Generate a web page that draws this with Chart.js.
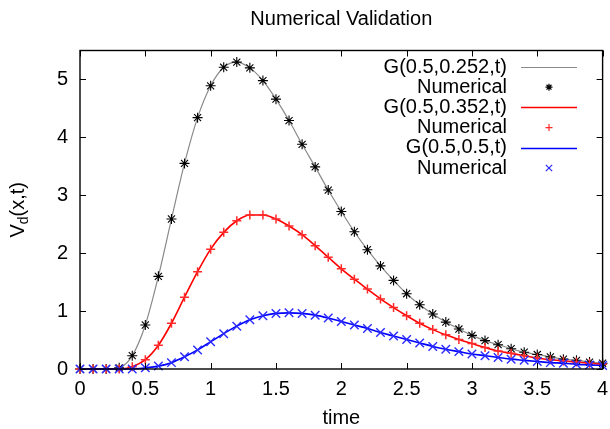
<!DOCTYPE html>
<html>
<head>
<meta charset="utf-8">
<script src="https://cdn.jsdelivr.net/npm/chart.js@4/dist/chart.umd.min.js"></script>
<style>
  html, body { margin: 0; padding: 0; background: #fff; }
  #chart { display: block; }
</style>
</head>
<body>
<canvas id="chart" width="610" height="429"></canvas>
<script>
// time samples (x)
const time = [0, 0.1, 0.2, 0.3, 0.4, 0.5, 0.6, 0.7, 0.8, 0.9,
              1.0, 1.1, 1.2, 1.3, 1.4, 1.5, 1.6, 1.7, 1.8, 1.9,
              2.0, 2.1, 2.2, 2.3, 2.4, 2.5, 2.6, 2.7, 2.8, 2.9,
              3.0, 3.1, 3.2, 3.3, 3.4, 3.5, 3.6, 3.7, 3.8, 3.9, 4.0];

// G(0.5,0.252,t)
const v252 = [0, 0, 0, 0.02, 0.23, 0.76, 1.60, 2.59, 3.55, 4.34,
              4.89, 5.21, 5.30, 5.20, 4.98, 4.66, 4.29, 3.88, 3.49, 3.09,
              2.72, 2.37, 2.06, 1.78, 1.53, 1.30, 1.11, 0.95, 0.81, 0.69,
              0.58, 0.49, 0.42, 0.35, 0.29, 0.25, 0.21, 0.17, 0.15, 0.12, 0.10];

// G(0.5,0.352,t)
const v352 = [0, 0, 0, 0, 0.04, 0.16, 0.41, 0.79, 1.24, 1.68,
              2.07, 2.36, 2.56, 2.66, 2.66, 2.59, 2.47, 2.32, 2.13, 1.93,
              1.73, 1.55, 1.38, 1.21, 1.06, 0.92, 0.79, 0.68, 0.59, 0.51,
              0.44, 0.37, 0.31, 0.27, 0.23, 0.19, 0.16, 0.14, 0.12, 0.10, 0.08];

// G(0.5,0.5,t)
const v500 = [0, 0, 0, 0, 0, 0.02, 0.05, 0.11, 0.21, 0.33,
              0.47, 0.61, 0.74, 0.85, 0.92, 0.96, 0.97, 0.96, 0.93, 0.88,
              0.82, 0.76, 0.70, 0.63, 0.57, 0.51, 0.45, 0.39, 0.34, 0.30,
              0.26, 0.23, 0.20, 0.17, 0.15, 0.13, 0.11, 0.10, 0.08, 0.07, 0.06];

const xTicks = [0, 0.5, 1, 1.5, 2, 2.5, 3, 3.5, 4];
const yTicks = [0, 1, 2, 3, 4, 5];

const legendLabels = ["G(0.5,0.252,t)", "Numerical", "G(0.5,0.352,t)", "Numerical", "G(0.5,0.5,t)", "Numerical"];

const FONT = "'Liberation Sans', Arial, Helvetica, sans-serif";

function pts(arr) {
  return time.map((t, i) => ({ x: t, y: arr[i] }));
}

function lineSet(label, arr, color, width, order) {
  return {
    label: label, data: pts(arr), showLine: true, borderColor: color, borderWidth: width,
    pointRadius: 0, fill: false, cubicInterpolationMode: "monotone",
    order: order, clip: false
  };
}

function pointSet(label, arr, color, style, radius, width, keyRadius, order) {
  return {
    label: label, data: pts(arr), showLine: false, borderColor: color,
    backgroundColor: color, pointStyle: style, pointRadius: radius,
    pointBorderWidth: width, keyRadius: keyRadius, order: order, clip: false
  };
}

const datasets = [
  lineSet(legendLabels[0], v252, "#8a8a8a", 1.2, 6),
  pointSet(legendLabels[1], v252, "#000000", "star", 5, 1.1, 3.5, 5),
  lineSet(legendLabels[2], v352, "#ff0000", 1.6, 4),
  pointSet(legendLabels[3], v352, "#ff2a2a", "cross", 4.5, 1.5, 3.5, 3),
  lineSet(legendLabels[4], v500, "#0000ff", 1.6, 2),
  pointSet(legendLabels[5], v500, "#2a2aff", "crossRot", 6, 1.4, 4.5, 1)
];

// frame, inward mirrored ticks, y title with subscript, gnuplot style key
const framePlugin = {
  id: "frame",
  afterDraw(chart) {
    const ctx = chart.ctx;
    const a = chart.chartArea;
    const xs = chart.scales.x, ys = chart.scales.y;
    ctx.save();
    ctx.strokeStyle = "#000";
    ctx.lineWidth = 1.4;
    ctx.strokeRect(a.left, a.top, a.right - a.left, a.bottom - a.top);

    ctx.lineWidth = 1;
    ctx.beginPath();
    xTicks.forEach(v => {
      const px = Math.round(xs.getPixelForValue(v)) + 0.5;
      ctx.moveTo(px, a.bottom); ctx.lineTo(px, a.bottom - 6);
      ctx.moveTo(px, a.top); ctx.lineTo(px, a.top + 6);
    });
    yTicks.forEach(v => {
      const py = Math.round(ys.getPixelForValue(v)) + 0.5;
      ctx.moveTo(a.left, py); ctx.lineTo(a.left + 6, py);
      ctx.moveTo(a.right, py); ctx.lineTo(a.right - 6, py);
    });
    ctx.stroke();

    // y axis title: V_d(x,t)
    ctx.fillStyle = "#000";
    ctx.translate(24, (a.top + a.bottom) / 2);
    ctx.rotate(-Math.PI / 2);
    ctx.textBaseline = "alphabetic";
    ctx.textAlign = "left";
    const big = "20px " + FONT, small = "14px " + FONT;
    ctx.font = big; const wV = ctx.measureText("V").width;
    const wRest = ctx.measureText("(x,t)").width;
    ctx.font = small; const wd = ctx.measureText("d").width;
    let x0 = -(wV + wd + wRest) / 2;
    ctx.font = big; ctx.fillText("V", x0, 0);
    ctx.font = small; ctx.fillText("d", x0 + wV, 4);
    ctx.font = big; ctx.fillText("(x,t)", x0 + wV + wd, 0);
    ctx.restore();

    // key
    ctx.save();
    ctx.font = "20px " + FONT;
    ctx.textAlign = "right";
    ctx.textBaseline = "middle";
    ctx.fillStyle = "#000";
    const textRight = 507, sx1 = 521, sx2 = 577, mx = 549;
    chart.data.datasets.forEach((ds, i) => {
      const y = 67 + i * 20.2;
      ctx.fillText(ds.label, textRight, y);
      ctx.strokeStyle = ds.borderColor;
      if (ds.showLine === false) {
        ctx.lineWidth = 1.2;
        Chart.helpers.drawPoint(ctx, { pointStyle: ds.pointStyle, radius: ds.keyRadius, borderWidth: 1.2 }, mx, y);
      } else {
        ctx.lineWidth = ds.borderWidth;
        ctx.beginPath();
        ctx.moveTo(sx1, Math.round(y) + 0.5); ctx.lineTo(sx2, Math.round(y) + 0.5);
        ctx.stroke();
      }
    });
    ctx.restore();
  }
};

new Chart(document.getElementById("chart"), {
  type: "scatter",
  data: { datasets: datasets },
  options: {
    responsive: false,
    animation: false,
    layout: { padding: { left: 0, right: 7, top: 0, bottom: 0 } },
    plugins: {
      legend: { display: false },
      tooltip: { enabled: false },
      title: {
        display: true,
        fullSize: false,
        text: "Numerical Validation",
        color: "#000",
        font: { family: FONT, size: 20, weight: "normal", lineHeight: 1.2 },
        padding: { top: 7, bottom: 19.5 }
      }
    },
    scales: {
      x: {
        type: "linear", min: 0, max: 4,
        grid: { display: false, drawTicks: false },
        border: { display: false },
        afterBuildTicks: s => { s.ticks = xTicks.map(v => ({ value: v })); },
        afterFit: s => { s.height = 60; s.paddingLeft = 0; s.paddingRight = 0; },
        ticks: {
          color: "#000", padding: 8,
          font: { family: FONT, size: 20 },
          callback: v => String(v)
        },
        title: {
          display: true, text: "time", color: "#000",
          font: { family: FONT, size: 20, lineHeight: 1 },
          padding: { top: 0, bottom: 1 }
        }
      },
      y: {
        type: "linear", min: 0, max: 5.5,
        grid: { display: false, drawTicks: false },
        border: { display: false },
        afterBuildTicks: s => { s.ticks = yTicks.map(v => ({ value: v })); },
        afterFit: s => { s.width = 80; s.paddingTop = 0; s.paddingBottom = 0; },
        ticks: {
          color: "#000", padding: 12,
          font: { family: FONT, size: 20 },
          callback: v => String(v)
        }
      }
    }
  },
  plugins: [framePlugin]
});
</script>
</body>
</html>
